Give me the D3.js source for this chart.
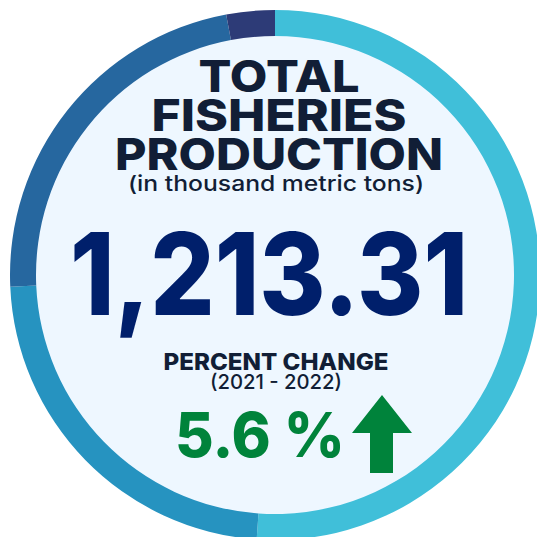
<!DOCTYPE html>
<html>
<head>
<meta charset="utf-8">
<script src="https://cdn.jsdelivr.net/npm/d3@7"></script>
<style>
  html, body { margin: 0; padding: 0; background: #ffffff; }
  svg { display: block; }
  text { font-family: Inter, "Open Sans", sans-serif; }
</style>
</head>
<body>
<div id="container"></div>
<script>
// production by sector (thousand metric tons)
var sectors = ["Aquaculture", "Municipal", "Commercial", "Other"];
var production = [620.0, 281.5, 276.0, 35.8];
var sectorColors = ["#40bfd9", "#2693c0", "#26679f", "#2d3b77"];

var titleLines = ["TOTAL", "FISHERIES", "PRODUCTION"];
var unitLabel = "(in thousand metric tons)";
var totalLabel = "1,213.31";
var changeTitle = "PERCENT CHANGE";
var changePeriod = "(2021 - 2022)";
var changeValue = "5.6 %";

var width = 537;
var height = 537;
var cx = 275, cy = 275;
var outerR = 265, innerR = 239;

const svg = d3.select("#container")
              .append("svg")
              .attr("width", width)
              .attr("height", height);

// inner pale disc
svg.append("circle")
   .attr("cx", cx)
   .attr("cy", cy)
   .attr("r", innerR + 1)
   .attr("fill", "#eef7ff");

var color = d3.scaleOrdinal()
              .domain(sectors)
              .range(sectorColors);

var pie = d3.pie()
            .sort(null)
            .value((d, i) => production[i]);

var arc = d3.arc()
            .innerRadius(innerR)
            .outerRadius(outerR);

svg.append("g")
   .attr("transform", "translate(" + cx + "," + cy + ")")
   .selectAll("path")
   .data(pie(sectors))
   .enter()
   .append("path")
   .attr("d", arc)
   .attr("fill", (d) => color(d.data));

// title block
var titleBase = [92, 131, 170];
var titleWidth = [161, 255, 328];
svg.selectAll("text.title")
   .data(titleLines)
   .enter()
   .append("text")
   .attr("class", "title")
   .attr("x", 279)
   .attr("y", (d, i) => titleBase[i])
   .attr("text-anchor", "middle")
   .attr("textLength", (d, i) => titleWidth[i])
   .attr("lengthAdjust", "spacingAndGlyphs")
   .style("font-size", "44px")
   .style("font-weight", 800)
   .style("fill", "#111e36")
   .text((d) => d);

svg.append("text")
   .attr("x", 276)
   .attr("y", 191)
   .attr("text-anchor", "middle")
   .attr("textLength", 296)
   .attr("lengthAdjust", "spacingAndGlyphs")
   .style("font-size", "21px")
   .style("font-weight", 500)
   .style("fill", "#111e36")
   .text(unitLabel);

svg.append("text")
   .attr("x", 269)
   .attr("y", 315)
   .attr("text-anchor", "middle")
   .attr("textLength", 398)
   .attr("lengthAdjust", "spacingAndGlyphs")
   .style("font-size", "114px")
   .style("font-weight", 800)
   .style("fill", "#001f6b")
   .text(totalLabel);

svg.append("text")
   .attr("x", 276)
   .attr("y", 370)
   .attr("text-anchor", "middle")
   .attr("textLength", 225)
   .attr("lengthAdjust", "spacingAndGlyphs")
   .style("font-size", "23px")
   .style("font-weight", 800)
   .style("fill", "#111e36")
   .text(changeTitle);

svg.append("text")
   .attr("x", 276)
   .attr("y", 389)
   .attr("text-anchor", "middle")
   .attr("textLength", 132)
   .attr("lengthAdjust", "spacingAndGlyphs")
   .style("font-size", "20px")
   .style("font-weight", 500)
   .style("fill", "#111e36")
   .text(changePeriod);

svg.append("text")
   .attr("x", 260)
   .attr("y", 457)
   .attr("text-anchor", "middle")
   .attr("textLength", 170)
   .attr("lengthAdjust", "spacingAndGlyphs")
   .style("font-size", "62px")
   .style("font-weight", 800)
   .style("fill", "#00833b")
   .text(changeValue);

// up arrow
var arrow = d3.path();
arrow.moveTo(382, 395);
arrow.lineTo(412, 433);
arrow.lineTo(393, 433);
arrow.lineTo(393, 473);
arrow.lineTo(370, 473);
arrow.lineTo(370, 433);
arrow.lineTo(352, 433);
arrow.closePath();

svg.append("path")
   .attr("d", arrow.toString())
   .attr("fill", "#00833b");
</script>
</body>
</html>
